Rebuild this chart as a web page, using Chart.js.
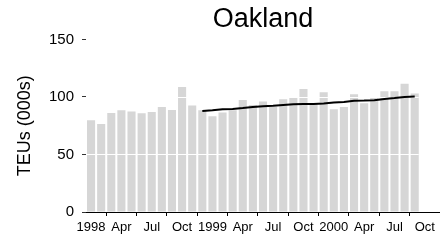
<!DOCTYPE html>
<html>
<head>
<meta charset="utf-8">
<script src="https://cdn.jsdelivr.net/npm/chart.js@4.4.1/dist/chart.umd.min.js"></script>
<style>
  html, body { margin: 0; padding: 0; background: #fff; }
  #wrap { width: 440px; height: 248px; }
</style>
</head>
<body>
<div id="wrap"><canvas id="c"></canvas></div>
<script>
// ===== DATA =====
const months = [
  '1998', 'Feb', 'Mar', 'Apr', 'May', 'Jun', 'Jul', 'Aug', 'Sep', 'Oct', 'Nov', 'Dec',
  '1999', 'Feb', 'Mar', 'Apr', 'May', 'Jun', 'Jul', 'Aug', 'Sep', 'Oct', 'Nov', 'Dec',
  '2000', 'Feb', 'Mar', 'Apr', 'May', 'Jun', 'Jul', 'Aug', 'Sep', 'Oct', 'Nov'
];
// monthly TEUs (000s)
const teus = [
  79.7, 76.5, 86, 88.4, 87.3, 85.8, 87, 91.3, 88.7, 108.7, 92.5, 88.4,
  83.2, 86.4, 88.5, 97.4, 93, 96, 91.5, 98, 100, 107, 93.5, 104,
  89.3, 91.3, 102.3, 94.5, 99, 105, 105, 111.5, 103
];
// 12-month moving average
const trend = [
  null, null, null, null, null, null, null, null, null, null, null, 87.8,
  88.4, 89.2, 89.6, 90.3, 91.2, 91.8, 92.3, 93, 93.6, 93.9, 93.8, 94.3,
  95.1, 95.6, 96.6, 96.8, 97.2, 98.2, 99.0, 100.0, 100.4
];
const yTicks = [0, 50, 100, 150];

const FONT = "'Liberation Sans', Arial, sans-serif";

// white reference lines drawn over the bars, under the trend line
const whiteGrid = {
  id: 'whiteGrid',
  afterDatasetDraw(chart, args) {
    if (args.meta.type !== 'bar') return;
    const { ctx, scales: { y } } = chart;
    const bars = args.meta.data;
    const first = bars[0], last = bars[bars.length - 1];
    const left = first.x - first.width / 2;
    const right = last.x + last.width / 2;
    ctx.save();
    ctx.strokeStyle = '#ffffff';
    ctx.lineWidth = 1.2;
    yTicks.slice(1).forEach(v => {
      const py = Math.round(y.getPixelForValue(v)) + 0.5;
      ctx.beginPath();
      ctx.moveTo(left, py);
      ctx.lineTo(right, py);
      ctx.stroke();
    });
    ctx.restore();
  }
};

new Chart(document.getElementById('c'), {
  type: 'bar',
  data: {
    labels: months,
    datasets: [
      {
        type: 'line',
        data: trend,
        borderColor: '#000',
        borderWidth: 2,
        pointRadius: 0,
        tension: 0,
        fill: false,
        order: 0
      },
      {
        type: 'bar',
        data: teus,
        backgroundColor: '#d6d6d6',
        borderWidth: 0,
        categoryPercentage: 1,
        barPercentage: 0.8,
        order: 1
      }
    ]
  },
  options: {
    responsive: true,
    maintainAspectRatio: false,
    animation: false,
    layout: { padding: { left: 0, right: 0, top: 0, bottom: 0 } },
    plugins: {
      legend: { display: false },
      tooltip: { enabled: false },
      title: {
        display: true,
        text: 'Oakland',
        color: '#000',
        fullSize: false,
        font: { family: FONT, size: 27, weight: 'normal' },
        padding: { top: 3, bottom: 4 }
      }
    },
    scales: {
      x: {
        offset: true,
        grid: { display: true, drawOnChartArea: false, drawTicks: true, tickLength: 4, color: '#000' },
        border: { display: true, color: '#000', width: 1 },
        ticks: {
          autoSkip: false,
          maxRotation: 0,
          padding: 4,
          color: '#000',
          font: { family: FONT, size: 13 }
        },
        afterBuildTicks: s => { s.ticks = s.ticks.filter(t => t.value % 3 === 0); },
        afterFit: s => { s.height = 36; }
      },
      y: {
        min: 0,
        max: 150,
        grid: { display: true, drawOnChartArea: false, drawTicks: true, tickLength: 4, color: '#333' },
        border: { display: false },
        afterBuildTicks: s => { s.ticks = yTicks.map(v => ({ value: v })); },
        ticks: {
          padding: 8,
          color: '#000',
          font: { family: FONT, size: 15 }
        },
        title: {
          display: true,
          text: 'TEUs (000s)',
          color: '#000',
          font: { family: FONT, size: 18 },
          padding: { top: 14, bottom: 0 }
        },
        afterFit: s => { s.width = 86; }
      }
    }
  },
  plugins: [whiteGrid]
});
</script>
</body>
</html>
